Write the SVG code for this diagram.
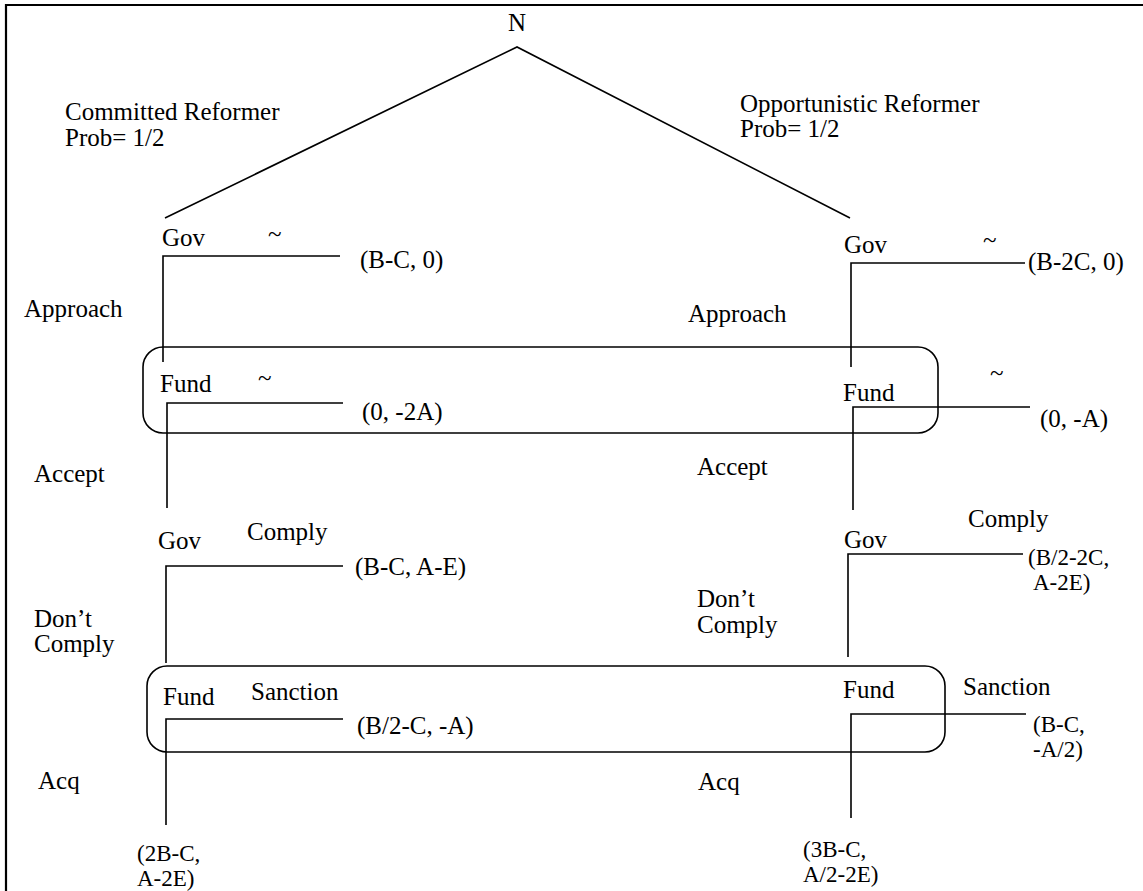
<svg xmlns="http://www.w3.org/2000/svg" width="1143" height="891" viewBox="0 0 1143 891">
<style>
text{font-family:"Liberation Serif","Times New Roman",serif;font-size:25px;fill:#000}
.sm{font-size:23px}
.ln{stroke:#000;stroke-width:1.6;fill:none}
.info{stroke:#000;stroke-width:1.6;fill:none}
.frame{stroke:#000;stroke-width:2.2;fill:none}
</style>
<rect width="1143" height="891" fill="#fff"/>
<path class="frame" d="M6 891 V5 H1143"/>

<g id="connectors">
<path class="ln" d="M165 218 L517 47 L850 218"/>
<path class="ln" d="M163 362 V256 H340"/>
<path class="ln" d="M167 508 V403 H343"/>
<path class="ln" d="M166 663 V566 H343"/>
<path class="ln" d="M166 825 V719 H343"/>
<path class="ln" d="M851 367 V263 H1025"/>
<path class="ln" d="M853 510 V407 H1030"/>
<path class="ln" d="M848 657 V554 H1023"/>
<path class="ln" d="M851 818 V714 H1026"/>
</g>

<g id="info-sets">
<rect class="info" x="143" y="347" width="795" height="86" rx="20"/>
<rect class="info" x="147" y="666" width="798" height="86" rx="20"/>
</g>

<g id="node-N"><text x="517" y="31" text-anchor="middle">N</text></g>

<g id="labels-chance">
<text x="65" y="120">Committed Reformer</text>
<text x="65" y="146">Prob= 1/2</text>
<text x="740" y="112">Opportunistic Reformer</text>
<text x="740" y="137">Prob= 1/2</text>
</g>

<g id="node-gov-committed-1">
<text x="162" y="246">Gov</text>
<text x="268" y="242">~</text>
<text x="360" y="268">(B-C, 0)</text>
<text x="24" y="317">Approach</text>
</g>

<g id="node-fund-committed-1">
<text x="160" y="392">Fund</text>
<text x="258" y="386">~</text>
<text x="362" y="420">(0, -2A)</text>
<text x="34" y="482">Accept</text>
</g>

<g id="node-gov-committed-2">
<text x="158" y="549">Gov</text>
<text x="247" y="540">Comply</text>
<text x="355" y="575">(B-C, A-E)</text>
<text x="34" y="627">Don’t</text>
<text x="34" y="652">Comply</text>
</g>

<g id="node-fund-committed-2">
<text x="163" y="705">Fund</text>
<text x="251" y="700">Sanction</text>
<text x="357" y="734">(B/2-C, -A)</text>
<text x="38" y="789">Acq</text>
<text class="sm" x="137" y="861">(2B-C,</text>
<text class="sm" x="137" y="886">A-2E)</text>
</g>

<g id="node-gov-opp-1">
<text x="844" y="253">Gov</text>
<text x="983" y="248">~</text>
<text x="1028" y="270">(B-2C, 0)</text>
<text x="688" y="322">Approach</text>
</g>

<g id="node-fund-opp-1">
<text x="843" y="401">Fund</text>
<text x="990" y="381">~</text>
<text x="1040" y="427">(0, -A)</text>
<text x="697" y="475">Accept</text>
</g>

<g id="node-gov-opp-2">
<text x="844" y="548">Gov</text>
<text x="968" y="527">Comply</text>
<text class="sm" x="1028" y="565">(B/2-2C,</text>
<text class="sm" x="1033" y="590">A-2E)</text>
<text x="697" y="607">Don’t</text>
<text x="697" y="633">Comply</text>
</g>

<g id="node-fund-opp-2">
<text x="843" y="698">Fund</text>
<text x="963" y="695">Sanction</text>
<text class="sm" x="1033" y="732">(B-C,</text>
<text class="sm" x="1033" y="757">-A/2)</text>
<text x="698" y="790">Acq</text>
<text class="sm" x="803" y="857">(3B-C,</text>
<text class="sm" x="803" y="882">A/2-2E)</text>
</g>
</svg>
